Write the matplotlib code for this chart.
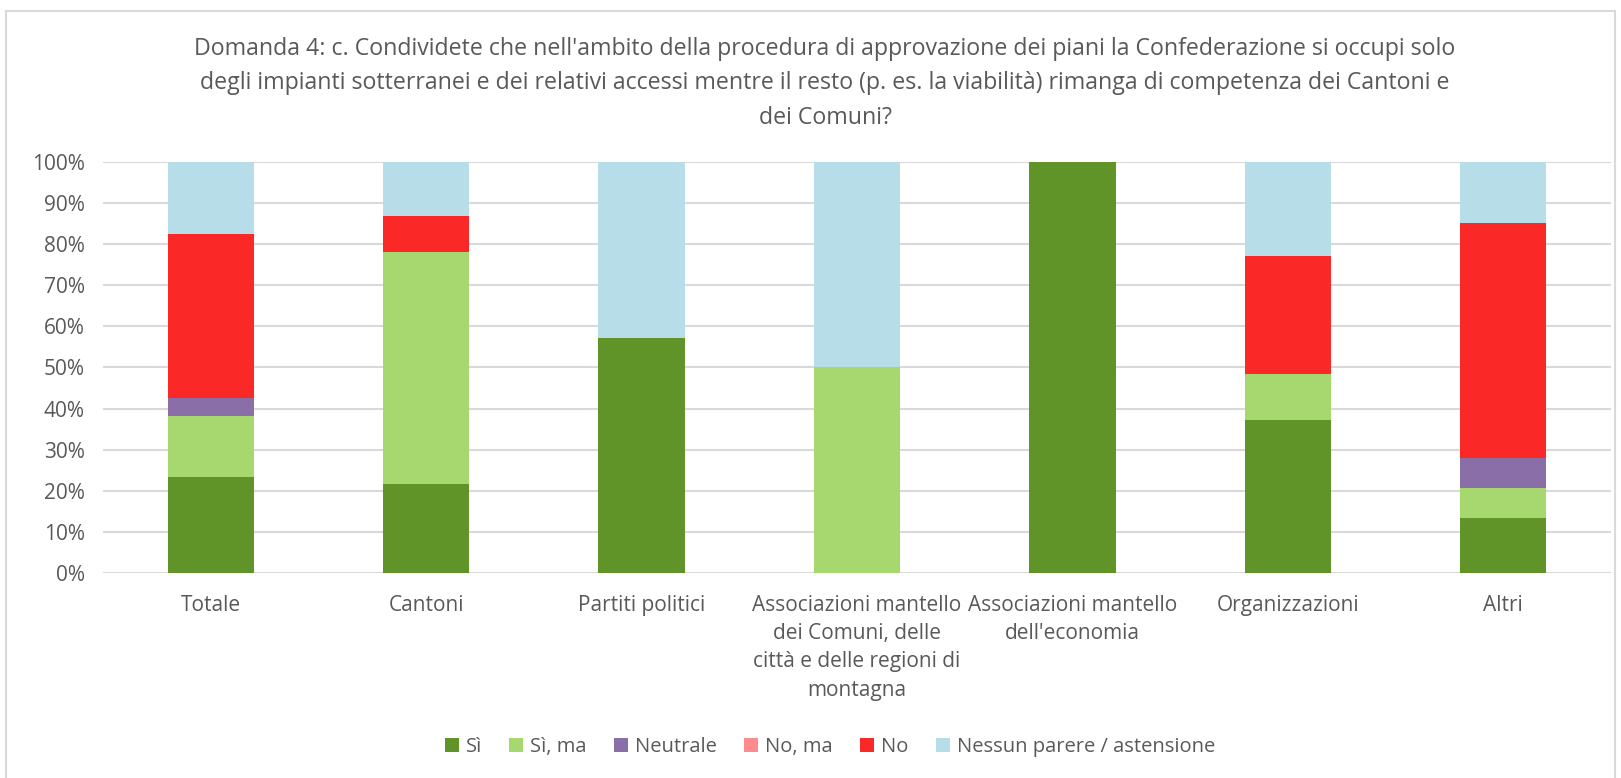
import numpy as np
import matplotlib
matplotlib.use('Agg')
import matplotlib.pyplot as plt
from matplotlib.patches import Rectangle

# Data (percentages)
categories = ['Totale', 'Cantoni', 'Partiti politici',
              'Associazioni mantello\ndei Comuni, delle\ncittà e delle regioni di\nmontagna',
              'Associazioni mantello\ndell\'economia', 'Organizzazioni', 'Altri']
si = [23.3, 21.7, 57.1, 0.0, 100.0, 37.1, 13.4]
si_ma = [15.0, 56.5, 0.0, 50.0, 0.0, 11.4, 7.3]
neutrale = [4.2, 0.0, 0.0, 0.0, 0.0, 0.0, 7.3]
no_ma = [0.0, 0.0, 0.0, 0.0, 0.0, 0.0, 0.0]
no = [40.0, 8.7, 0.0, 0.0, 0.0, 28.6, 57.3]
nessun = [17.5, 13.1, 42.9, 50.0, 0.0, 22.9, 14.7]

series_names = ['Sì', 'Sì, ma', 'Neutrale', 'No, ma', 'No', 'Nessun parere / astensione']
series_values = [si, si_ma, neutrale, no_ma, no, nessun]
colors = ['#609328', '#A6D86F', '#8A6EA7', '#FF8C8C', '#FB2828', '#B7DDE8']

title = ("Domanda 4: c. Condividete che nell'ambito della procedura di approvazione dei piani la Confederazione si occupi solo\n"
         "degli impianti sotterranei e dei relativi accessi mentre il resto (p. es. la viabilità) rimanga di competenza dei Cantoni e\n"
         "dei Comuni?")

plt.rcParams['font.family'] = ['Open Sans', 'DejaVu Sans']
text_col = '#595959'

fig = plt.figure(figsize=(16.21, 7.78), dpi=100)
ax = fig.add_axes([103 / 1621, 0.2639, 1508 / 1621, 0.5275])

x = np.arange(len(categories))
bottom = np.zeros(len(categories))
for name, vals, c in zip(series_names, series_values, colors):
    vals = np.array(vals)
    ax.bar(x, vals, 0.4, bottom=bottom, color=c, label=name, zorder=3)
    bottom += vals

ax.set_xlim(-0.5, len(categories) - 0.5)
ax.set_ylim(0, 100)
ax.set_yticks(np.arange(0, 101, 10))
ax.set_yticklabels([f'{v}%' for v in range(0, 101, 10)], fontsize=15, color=text_col)
ax.set_xticks(x)
ax.set_xticklabels(categories, fontsize=15, color=text_col, linespacing=1.45, va='top')
ax.tick_params(axis='both', length=0)
ax.tick_params(axis='x', pad=16)
ax.tick_params(axis='y', pad=13)
ax.grid(axis='y', color='#D9D9D9', linewidth=1.5, zorder=0)
for s in ax.spines.values():
    s.set_visible(False)

fig.text(0.509, 0.953, title, ha='center', va='top', fontsize=16.7, color=text_col, linespacing=1.6)

leg = fig.legend(loc='center', bbox_to_anchor=(0.512, 0.04), ncol=6, frameon=False,
                 fontsize=14.5, handlelength=0.7, handleheight=0.7, handletextpad=0.35, columnspacing=1.35)
for t in leg.get_texts():
    t.set_color(text_col)

# chart area border
fig.patches.append(Rectangle((6 / 1621, -0.05), 1609 / 1621, 1 - 11 / 778 + 0.05,
                             transform=fig.transFigure, fill=False, edgecolor='#D9D9D9', linewidth=1.5))

fig.savefig('out.png', dpi=100)
